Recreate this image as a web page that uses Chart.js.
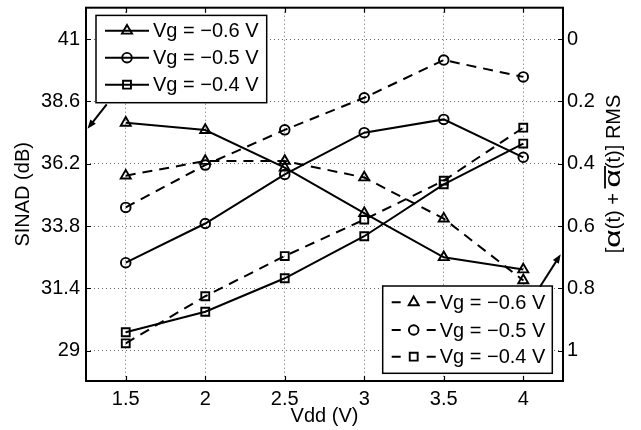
<!DOCTYPE html>
<html><head><meta charset="utf-8">
<script src="https://cdn.jsdelivr.net/npm/chart.js@4/dist/chart.umd.min.js"></script>
<style>html,body{margin:0;padding:0;background:#fff}#wrap{width:641px;height:430px}</style>
</head><body><div id="wrap"><canvas id="c" width="641" height="430"></canvas></div>
<script>
// ---- data ----
const vdd = [1.5, 2, 2.5, 3, 3.5, 4];
const xTicks = [1.5, 2, 2.5, 3, 3.5, 4];
const sinadTicks = [29, 31.4, 33.8, 36.2, 38.6, 41];
const rmsTicks = [0, 0.2, 0.4, 0.6, 0.8, 1];
const seriesLabels = ['Vg = \u22120.6 V', 'Vg = \u22120.5 V', 'Vg = \u22120.4 V'];
// SINAD (dB), solid lines, left axis
const sinad06 = [37.78, 37.50, 36.05, 34.30, 32.60, 32.13];
const sinad05 = [32.39, 33.90, 35.79, 37.40, 37.91, 36.45];
const sinad04 = [29.71, 30.50, 31.79, 33.41, 35.41, 36.98];
// [alpha(t) + alpha-bar(t)] RMS, dashed lines, right (reversed) axis
const rms06 = [0.438, 0.391, 0.391, 0.444, 0.576, 0.774];
const rms05 = [0.540, 0.404, 0.291, 0.188, 0.067, 0.121];
const rms04 = [0.976, 0.825, 0.696, 0.579, 0.454, 0.284];

const FONT = "'Liberation Sans', Arial, Helvetica, sans-serif";
const FS = 20;
const styles = [['triangle', 5.8], ['circle', 4.8], ['rect', 5.6]];

function pts(ys) { return vdd.map((x, i) => ({x: x, y: ys[i]})); }
function mk(label, ys, axis, k, dashed) {
  return {
    label: label, data: pts(ys), yAxisID: axis,
    borderColor: '#000', borderWidth: 2, borderDash: dashed ? [10, 7] : [],
    pointStyle: styles[k][0], pointRadius: styles[k][1], pointHoverRadius: styles[k][1],
    pointBorderWidth: 1.9, pointBorderColor: '#000', pointBackgroundColor: 'rgba(0,0,0,0)',
    tension: 0, fill: false
  };
}
const datasets = [
  mk(seriesLabels[0], sinad06, 'y', 0, false),
  mk(seriesLabels[1], sinad05, 'y', 1, false),
  mk(seriesLabels[2], sinad04, 'y', 2, false),
  mk(seriesLabels[0], rms06, 'y1', 0, true),
  mk(seriesLabels[1], rms05, 'y1', 1, true),
  mk(seriesLabels[2], rms04, 'y1', 2, true)
];

function fixTicks(vals) { return s => { s.ticks = vals.map(v => ({value: v})); }; }
function fitter(dim, size) {
  return s => { s[dim] = size; s.paddingTop = 0; s.paddingBottom = 0; s.paddingLeft = 0; s.paddingRight = 0; };
}

function arrow(ctx, x0, y0, x1, y1) {
  const a = Math.atan2(y1 - y0, x1 - x0), L = 9, W = 3.5;
  ctx.beginPath(); ctx.moveTo(x0, y0);
  ctx.lineTo(x1 - Math.cos(a) * L * 0.8, y1 - Math.sin(a) * L * 0.8); ctx.stroke();
  ctx.beginPath(); ctx.moveTo(x1, y1);
  ctx.lineTo(x1 - Math.cos(a) * L - Math.sin(a) * W, y1 - Math.sin(a) * L + Math.cos(a) * W);
  ctx.lineTo(x1 - Math.cos(a) * L + Math.sin(a) * W, y1 - Math.sin(a) * L - Math.cos(a) * W);
  ctx.closePath(); ctx.fill();
}

function drawLegend(chart, ctx, bx, by, bw, bh, idxs, rowOff, dashed) {
  ctx.save();
  ctx.fillStyle = '#fff'; ctx.fillRect(bx, by, bw, bh);
  ctx.strokeStyle = '#000'; ctx.lineWidth = 1.5; ctx.setLineDash([]);
  ctx.strokeRect(bx, by, bw, bh);
  ctx.font = FS + 'px ' + FONT; ctx.textBaseline = 'middle'; ctx.textAlign = 'left'; ctx.fillStyle = '#000';
  idxs.forEach((di, i) => {
    const ds = chart.data.datasets[di];
    const y = by + rowOff[i];
    const x0 = bx + 9, x1 = bx + 53, xm = (x0 + x1) / 2;
    ctx.lineWidth = 2; ctx.strokeStyle = '#000';
    ctx.setLineDash(dashed ? [9, 26] : []);
    ctx.beginPath(); ctx.moveTo(x0, y); ctx.lineTo(x1, y); ctx.stroke();
    ctx.setLineDash([]);
    ctx.lineWidth = 1.9; ctx.fillStyle = 'rgba(0,0,0,0)';
    Chart.helpers.drawPoint(ctx, {pointStyle: ds.pointStyle, radius: ds.pointRadius, rotation: 0, borderWidth: 1.9}, xm, y);
    ctx.fillStyle = '#000';
    ctx.fillText(ds.label, bx + 57, y + 1);
  });
  ctx.restore();
}

const decor = {
  id: 'decor',
  afterDraw(chart) {
    const ctx = chart.ctx, a = chart.chartArea;
    const xs = chart.scales.x, ys = chart.scales.y;
    ctx.save();
    // frame
    ctx.strokeStyle = '#000'; ctx.lineWidth = 2; ctx.setLineDash([]);
    ctx.strokeRect(a.left, a.top, a.right - a.left, a.bottom - a.top);
    // inward ticks
    ctx.lineWidth = 1.2;
    ctx.beginPath();
    xs.ticks.forEach(t => {
      const p = Math.round(xs.getPixelForValue(t.value)) + 0.5;
      ctx.moveTo(p, a.bottom); ctx.lineTo(p, a.bottom - 5);
      ctx.moveTo(p, a.top); ctx.lineTo(p, a.top + 5);
    });
    ys.ticks.forEach(t => {
      const p = Math.round(ys.getPixelForValue(t.value)) + 0.5;
      ctx.moveTo(a.left, p); ctx.lineTo(a.left + 5, p);
      ctx.moveTo(a.right, p); ctx.lineTo(a.right - 5, p);
    });
    ctx.stroke();
    // legends
    drawLegend(chart, ctx, a.left + 10, a.top + 7.7, 170.7, 87.3, [0, 1, 2], [15.3, 42.3, 69.3], false);
    drawLegend(chart, ctx, a.right - 180.3, a.bottom - 95, 169.6, 87.3, [3, 4, 5], [16.3, 44, 70.7], true);
    // arrows
    ctx.strokeStyle = '#000'; ctx.fillStyle = '#000'; ctx.lineWidth = 2;
    arrow(ctx, a.left + 20.7, a.top + 96.7, a.left + 1.5, a.top + 121);
    arrow(ctx, a.right - 23, a.bottom - 94.3, a.right - 2.3, a.bottom - 126.7);
    // right axis title: [α(t) + ᾱ(t)] RMS, read bottom-to-top
    ctx.translate(614, 174);
    ctx.rotate(-Math.PI / 2);
    ctx.font = FS + 'px ' + FONT; ctx.textBaseline = 'middle'; ctx.textAlign = 'left'; ctx.fillStyle = '#000';
    const AS = 1.6;
    const segs = ['[', '\u03B1', '(t) + ', '\u03B1', '(t)] RMS'];
    const ws = segs.map((t, i) => ctx.measureText(t).width * (t === '\u03B1' ? AS : 1));
    const tot = ws.reduce((p, c) => p + c, 0);
    let cx = -tot / 2;
    segs.forEach((t, i) => {
      if (t === '\u03B1') {
        ctx.save(); ctx.translate(cx, 0); ctx.scale(AS, 1.1); ctx.fillText(t, 0, 0); ctx.restore();
        if (i === 3) {
          ctx.lineWidth = 1.8; ctx.beginPath();
          ctx.moveTo(cx - 1, -9); ctx.lineTo(cx + ws[i] + 3, -9); ctx.stroke();
        }
      } else {
        ctx.fillText(t, cx, 0);
      }
      cx += ws[i];
    });
    ctx.restore();
  }
};

new Chart(document.getElementById('c'), {
  type: 'line',
  data: {datasets: datasets},
  options: {
    responsive: false, animation: false, events: [],
    layout: {padding: {top: 5, left: 0, right: 0, bottom: 0}},
    plugins: {legend: {display: false}, tooltip: {enabled: false}},
    scales: {
      x: {
        type: 'linear', position: 'bottom', min: 1.25, max: 4.25,
        afterBuildTicks: fixTicks(xTicks), afterFit: fitter('height', 49),
        ticks: {callback: v => String(v), color: '#000', font: {family: FONT, size: FS}, padding: 6, maxRotation: 0, autoSkip: false},
        grid: {color: '#666', lineWidth: 1, drawTicks: false},
        border: {display: false, dash: [1, 3]},
        title: {display: true, text: 'Vdd (V)', color: '#000', font: {family: FONT, size: FS}, padding: {top: 0, bottom: 2}}
      },
      y: {
        type: 'linear', position: 'left', min: 27.833, max: 42.213,
        afterBuildTicks: fixTicks(sinadTicks), afterFit: fitter('width', 86),
        ticks: {callback: v => String(v), color: '#000', font: {family: FONT, size: FS}, padding: 6},
        grid: {color: '#666', lineWidth: 1, drawTicks: false},
        border: {display: false, dash: [1, 3]},
        title: {display: true, text: 'SINAD (dB)', color: '#000', font: {family: FONT, size: FS}, padding: {top: 11, bottom: 0}}
      },
      y1: {
        type: 'linear', position: 'right', min: -0.101, max: 1.097, reverse: true,
        afterBuildTicks: fixTicks(rmsTicks), afterFit: fitter('width', 78),
        ticks: {callback: v => String(v), color: '#000', font: {family: FONT, size: FS}, padding: 4},
        grid: {drawOnChartArea: false, drawTicks: false},
        border: {display: false}
      }
    }
  },
  plugins: [decor]
});
</script></body></html>
